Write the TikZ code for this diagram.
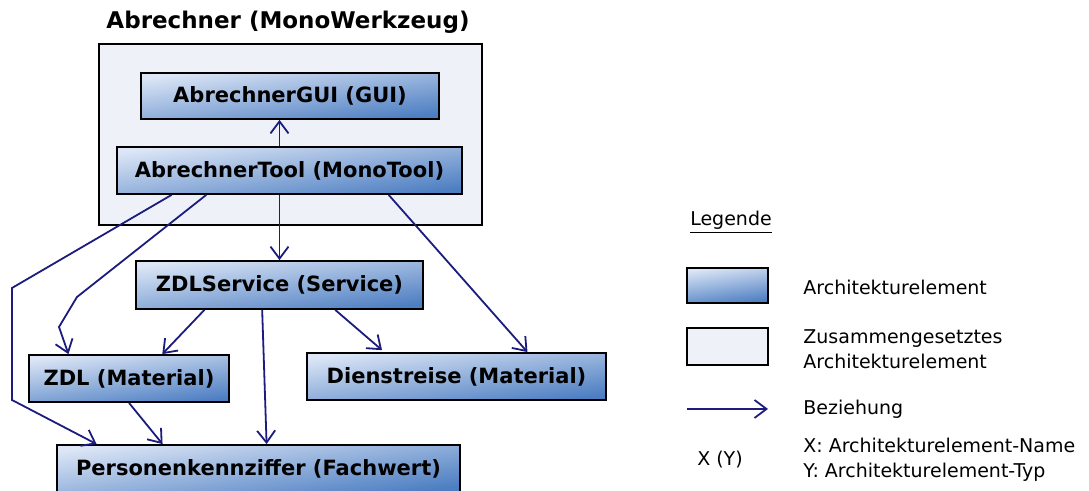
\documentclass[tikz,border=0pt]{standalone}
\usepackage{fontspec}
\setmainfont{DejaVu Sans}
\usetikzlibrary{arrows.meta,calc}
\definecolor{boxlight}{HTML}{DCE6F6}
\definecolor{boxmid}{HTML}{B2C7E8}
\definecolor{boxdark}{HTML}{4D7EC2}
\definecolor{outerfill}{HTML}{EEF2F8}
\definecolor{relblue}{HTML}{1C1C7E}
\begin{document}
\begin{tikzpicture}[x=0.5pt,y=-0.5pt,
  elem/.style={draw=black,line width=0.9pt,top color=boxlight,middle color=boxmid,bottom color=boxdark,shading angle=8,inner sep=0pt,font=\fontsize{10.5}{12}\bfseries},
  group/.style={draw=black,line width=0.9pt,fill=outerfill,inner sep=0pt},
  rel/.style={draw=relblue,line width=0.9pt,-{Straight Barb[length=6pt,width=9pt]}},
  legtext/.style={anchor=west,align=left,inner sep=0pt,font=\fontsize{9.5}{12.5}\selectfont}]
\useasboundingbox (0,0) rectangle (1089,491);
\node [font=\fontsize{11.5}{13}\bfseries] (title) at (288,22) {Abrechner (MonoWerkzeug)};
\node [group,minimum width=191.5pt,minimum height=90.5pt] (abr) at (290.5,134.5) {};
\node [elem,minimum width=149pt,minimum height=23pt] (gui) at (290,96) {AbrechnerGUI (GUI)};
\node [elem,minimum width=172.5pt,minimum height=23.5pt] (tool) at (289.5,170.5) {AbrechnerTool (MonoTool)};
\node [elem,minimum width=143.5pt,minimum height=24pt] (svc) at (279.5,285) {ZDLService (Service)};
\node [elem,minimum width=100pt,minimum height=23.5pt] (zdl) at (129,378.5) {ZDL (Material)};
\node [elem,minimum width=149.5pt,minimum height=23.5pt] (dr) at (456.5,376.5) {Dienstreise (Material)};
\node [elem,minimum width=201.5pt,minimum height=23.5pt] (pkz) at (258.5,468.5) {Personenkennziffer (Fachwert)};
\coordinate (b1) at (12,288);
\coordinate (b2) at (12,400);
\coordinate (c1) at (77,297);
\coordinate (c2) at (59,327);
\draw [rel] (tool.north -| svc.north) -- (gui.south -| svc.north);
\draw [rel] (tool.south -| svc.north) -- (svc.north);
\draw [rel] ($(tool.south west)!.16!(tool.south east)$) -- (b1) -- (b2) -- ($(pkz.north west)!.1!(pkz.north east)$);
\draw [rel] ($(tool.south west)!.26!(tool.south east)$) -- (c1) -- (c2) -- ($(zdl.north west)!.2!(zdl.north east)$);
\draw [rel] ($(tool.south west)!.786!(tool.south east)$) -- ($(dr.north west)!.736!(dr.north east)$);
\draw [rel] ($(svc.south west)!.24!(svc.south east)$) -- ($(zdl.north west)!.665!(zdl.north east)$);
\draw [rel] ($(svc.south west)!.44!(svc.south east)$) -- ($(pkz.north west)!.52!(pkz.north east)$);
\draw [rel,shorten >=1.5pt] ($(svc.south west)!.693!(svc.south east)$) -- ($(dr.north west)!.26!(dr.north east)$);
\draw [rel] (zdl.south) -- ($(pkz.north west)!.263!(pkz.north east)$);
\node [legtext,anchor=center] (leg) at (731,222) {\underline{Legende}};
\node [elem,minimum width=40.5pt,minimum height=17.5pt] (legelem) at (727.5,285.5) {};
\node [legtext] (legelemtxt) at (803,287) {Architekturelement};
\node [group,minimum width=40.5pt,minimum height=18.5pt] (leggroup) at (727.5,346.5) {};
\node [legtext] (leggrouptxt) at (803,349.5) {Zusammengesetztes\\Architekturelement};
\coordinate (la) at (687,409);
\coordinate (lb) at (768,409);
\draw [rel] (la) -- (lb);
\node [legtext] (legreltxt) at (803,409) {Beziehung};
\node [legtext,anchor=center] (legxy) at (720,460) {X (Y)};
\node [legtext] (legxytxt) at (803,460) {X: Architekturelement-Name\\Y: Architekturelement-Typ};
\end{tikzpicture}
\end{document}
